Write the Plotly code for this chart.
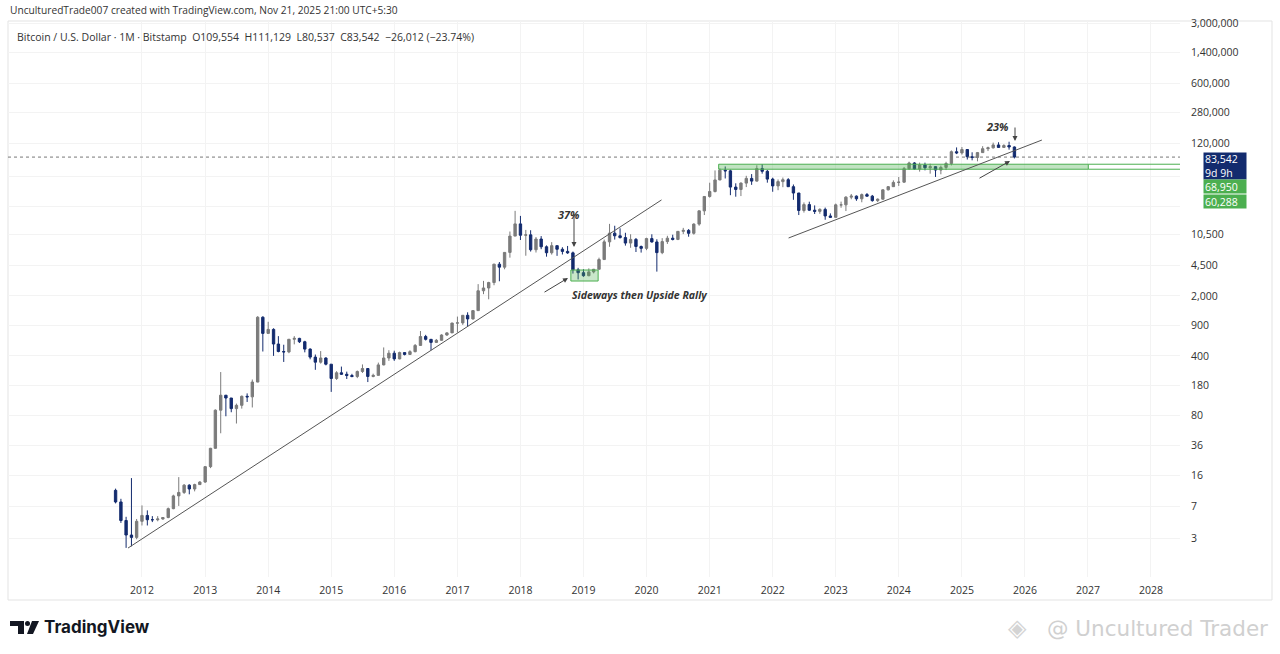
import pandas as pd
import plotly.graph_objects as go

# ---------------- data (monthly BTCUSD, Bitstamp) ----------------
months = pd.date_range("2011-08-01", "2025-11-01", freq="MS")

open_ = [
    10.8, 7.9, 4.8, 3.25, 3.05,
    4.7, 5.5, 4.9, 4.9, 5.0, 5.2, 6.6, 9.3, 10.2, 12.4, 11.2, 12.6,
    13.5, 20.4, 33.4, 93, 139, 129, 97, 106, 135, 133, 198, 1130,
    732, 815, 550, 450, 445, 625, 640, 585, 480, 387, 338, 378,
    320, 218, 254, 244, 236, 230, 263, 285, 230, 237, 314, 378,
    430, 369, 437, 416, 448, 530, 673, 624, 575, 608, 701, 742,
    966, 970, 1190, 1080, 1350, 2300, 2480, 2870, 4700, 4340, 6450, 10000,
    13880, 10230, 10330, 6930, 9240, 7500, 6390, 7730, 7020, 6630, 6370, 4040,
    3740, 3450, 3820, 4100, 5320, 8560, 10820, 10080, 9600, 8290, 9150, 7560,
    7190, 9350, 8540, 6410, 8630, 9450, 9140, 11350, 11650, 10780, 13800, 19700,
    28990, 33100, 45200, 58800, 57700, 37300, 35000, 41500, 47100, 43800, 61300, 57000,
    46200, 38500, 43200, 45500, 37700, 31800, 19900, 23300, 20050, 19430, 20490, 17170,
    16540, 23130, 23140, 28480, 29250, 27220, 30470, 29230, 25930, 26970, 34650, 37720,
    42280, 42580, 61130, 71290, 60640, 67500, 62680, 64620, 58970, 63330, 70220, 96450,
    93390, 102400, 84350, 82550, 94200, 104600, 107100, 115750, 108250, 114050, 109554,
]
high = [
    11.3, 8.6, 5.3, 15.0, 5.0,
    7.2, 6.3, 5.4, 5.4, 5.2, 6.8, 9.6, 15.4, 12.8, 12.7, 12.9, 13.8,
    20.7, 33.8, 95, 259, 140, 129, 111, 138, 146, 212, 1163, 1160,
    1000, 840, 680, 540, 630, 680, 650, 600, 490, 415, 455, 385,
    320, 265, 300, 262, 247, 270, 318, 285, 248, 334, 502, 466,
    460, 448, 440, 465, 550, 780, 704, 630, 630, 715, 756, 975,
    1150, 1200, 1290, 1350, 2750, 3000, 2930, 4750, 4980, 6470, 11300, 19700,
    17200, 11800, 11700, 9750, 10000, 7780, 8500, 7750, 7410, 7670, 6600, 4260,
    4100, 4200, 4140, 5600, 9100, 13880, 13200, 12330, 10930, 10500, 9500, 7750,
    9570, 10500, 9180, 9460, 10080, 10380, 11440, 12470, 12070, 14100, 19900, 29300,
    41950, 58350, 61800, 64900, 59600, 41300, 42400, 50500, 52900, 67000, 69000, 59100,
    48000, 45800, 48200, 47400, 40000, 31900, 24700, 25200, 22800, 21100, 21500, 18400,
    23950, 25250, 29200, 31000, 29800, 31400, 31800, 30200, 27500, 35100, 38400, 44700,
    48900, 64000, 73800, 72800, 72000, 71900, 70000, 65000, 66500, 73600, 99800, 108300,
    109400, 102800, 95000, 95800, 111900, 110500, 123200, 124500, 117900, 126200, 111129,
]
low = [
    7.6, 4.5, 2.3, 2.4, 2.9,
    4.2, 4.2, 4.6, 4.7, 4.9, 5.1, 6.5, 7.1, 9.8, 9.7, 10.5, 12.5,
    13.2, 19.6, 33, 50, 79, 88, 65, 97, 116, 100, 197, 450,
    730, 400, 440, 340, 430, 545, 565, 440, 365, 275, 325, 310,
    152, 210, 240, 215, 225, 220, 253, 198, 225, 236, 310, 350,
    350, 365, 405, 412, 440, 525, 605, 465, 565, 605, 685, 740,
    750, 920, 885, 1060, 1340, 2100, 1830, 2670, 2970, 4100, 5600, 10000,
    9000, 5900, 6600, 6430, 7030, 5750, 6080, 5880, 6100, 6200, 3650, 3120,
    3350, 3400, 3670, 4100, 5320, 7500, 9100, 9380, 7740, 7300, 6520, 6420,
    6850, 8400, 3850, 6150, 8100, 8900, 8970, 10550, 9830, 10400, 13200, 17600,
    28100, 32300, 44900, 47000, 30000, 28800, 29300, 37300, 39600, 43300, 53500, 42000,
    32900, 34300, 37200, 37600, 26500, 17600, 18800, 19600, 18100, 18200, 15500, 16300,
    16500, 21400, 19600, 26900, 25800, 24800, 28900, 25200, 24900, 26600, 34100, 37600,
    38500, 41900, 59300, 59600, 56500, 58500, 53500, 49000, 52600, 58900, 66800, 90500,
    89200, 78200, 76600, 74500, 93400, 98200, 105100, 107300, 107300, 102000, 80537,
]
close = [
    7.9, 4.8, 3.25, 3.05, 4.7,
    5.5, 4.9, 4.9, 5.0, 5.2, 6.6, 9.3, 10.2, 12.4, 11.2, 12.6, 13.5,
    20.4, 33.4, 93, 139, 129, 97, 106, 135, 133, 198, 1130, 732,
    815, 550, 450, 445, 625, 640, 585, 480, 387, 338, 378, 320,
    218, 254, 244, 236, 230, 263, 285, 230, 237, 314, 378, 430,
    369, 437, 416, 448, 530, 673, 624, 575, 608, 701, 742, 966,
    970, 1190, 1080, 1350, 2300, 2480, 2870, 4700, 4340, 6450, 10000, 13880,
    10230, 10330, 6930, 9240, 7500, 6390, 7730, 7020, 6630, 6370, 4040, 3740,
    3450, 3820, 4100, 5320, 8560, 10820, 10080, 9600, 8290, 9150, 7560, 7190,
    9350, 8540, 6410, 8630, 9450, 9140, 11350, 11650, 10780, 13800, 19700, 28990,
    33100, 45200, 58800, 57700, 37300, 35000, 41500, 47100, 43800, 61300, 57000, 46200,
    38500, 43200, 45500, 37700, 31800, 19900, 23300, 20050, 19430, 20490, 17170, 16540,
    23130, 23140, 28480, 29250, 27220, 30470, 29230, 25930, 26970, 34650, 37720, 42280,
    42580, 61130, 71290, 60640, 67500, 62680, 64620, 58970, 63330, 70220, 96450, 93390,
    102400, 84350, 82550, 94200, 104600, 107100, 115750, 108250, 114050, 109554, 83542,
]

y_tick_vals = [3, 7, 16, 36, 80, 180, 400, 900, 2000, 4500, 10500, 22000,
               50000, 120000, 280000, 600000, 1400000, 3000000]
# 50,000 and 22,000 sit under the price-label boxes (hidden in the reference)
y_tick_text = [("" if v in (22000, 50000) else f"{v:,}") for v in y_tick_vals]
year_labels = [str(y) for y in range(2012, 2029)]
year_ticks = [f"{y}-01-01" for y in year_labels]

# drawings (date, price)
trend1 = (["2011-10-12", "2020-03-28"], [2.29, 26400])
trend2 = (["2022-04-03", "2026-04-09"], [9500, 132000])
zone = ("2021-02-22", "2027-01-03", 60288, 68950)
box_small = ("2018-10-20", "2019-03-27", 2990, 4020)

# ---------------- layout helpers ----------------
W, H = 1280, 654
L, R, T, B = 8, 1180, 21, 577
def px(x): return (x - L) / (R - L)
def py(y): return (B - y) / (B - T)

UP = "#7b7b7b"
DN = "#132b6e"
GREEN = "#4caf50"
FONT = "Open Sans"
TXT = "#333333"

fig = go.Figure()
fig.add_trace(go.Candlestick(
    x=months, open=open_, high=high, low=low, close=close,
    increasing=dict(line=dict(color=UP, width=1), fillcolor=UP),
    decreasing=dict(line=dict(color=DN, width=1), fillcolor=DN),
    whiskerwidth=0, hoverinfo="skip", showlegend=False,
))

shapes = []
# frame
shapes.append(dict(type="rect", xref="paper", yref="paper", x0=px(8), x1=px(1272),
                   y0=py(600), y1=py(21), line=dict(color="#e3e3e3", width=1), layer="below"))
# price line
shapes.append(dict(type="line", xref="paper", yref="y", x0=0, x1=1, y0=close[-1], y1=close[-1],
                   line=dict(color="#777777", width=1, dash="dot")))
# green zone
shapes.append(dict(type="rect", xref="x", yref="y", x0=zone[0], x1=zone[1], y0=zone[2], y1=zone[3],
                   fillcolor="rgba(76,175,80,0.35)", line=dict(color=GREEN, width=1)))
for v in zone[2:]:
    shapes.append(dict(type="line", xref="x", yref="y", x0=zone[1], x1="2028-06-17", y0=v, y1=v,
                       line=dict(color=GREEN, width=1)))
# small box
shapes.append(dict(type="rect", xref="x", yref="y", x0=box_small[0], x1=box_small[1],
                   y0=box_small[2], y1=box_small[3],
                   fillcolor="rgba(76,175,80,0.30)", line=dict(color=GREEN, width=1)))
# trend lines
for tl in (trend1, trend2):
    shapes.append(dict(type="line", xref="x", yref="y", x0=tl[0][0], x1=tl[0][1],
                       y0=tl[1][0], y1=tl[1][1], line=dict(color="#555555", width=1)))
# TradingView logo glyph
shapes.append(dict(type="path", xref="paper", yref="paper", fillcolor="#131722", line=dict(width=0),
                   path=f"M {px(10)},{py(621)} L {px(24)},{py(621)} L {px(24)},{py(634)} L {px(18)},{py(634)} "
                        f"L {px(18)},{py(626)} L {px(10)},{py(626)} Z"))
shapes.append(dict(type="circle", xref="paper", yref="paper", fillcolor="#131722", line=dict(width=0),
                   x0=px(25), x1=px(30), y0=py(626), y1=py(621)))
shapes.append(dict(type="path", xref="paper", yref="paper", fillcolor="#131722", line=dict(width=0),
                   path=f"M {px(32)},{py(621)} L {px(39)},{py(621)} L {px(33)},{py(634)} L {px(27)},{py(634)} Z"))

ann = []
# header
ann.append(dict(xref="paper", yref="paper", x=px(8), y=py(10), xanchor="left", yanchor="middle",
                text="UnculturedTrade007 created with TradingView.com, Nov 21, 2025 21:00 UTC+5:30",
                showarrow=False, font=dict(family=FONT, size=10.2, color=TXT)))
ann.append(dict(xref="paper", yref="paper", x=px(15), y=py(37), xanchor="left", yanchor="middle",
                text="Bitcoin / U.S. Dollar · 1M · Bitstamp  O109,554  H111,129  L80,537  C83,542  −26,012 (−23.74%)",
                showarrow=False, font=dict(family=FONT, size=10.5, color=TXT)))
# right price labels
ann.append(dict(xref="paper", yref="paper", x=px(1203), y=py(166), xanchor="left", yanchor="middle",
                text="83,542<br>9d 9h", showarrow=False, bgcolor=DN, width=40, height=24, align="left",
                borderpad=1, font=dict(family=FONT, size=10.5, color="white")))
ann.append(dict(xref="paper", yref="paper", x=px(1203), y=py(186.5), xanchor="left", yanchor="middle",
                text="68,950", showarrow=False, bgcolor=GREEN, width=40, height=11, align="left",
                borderpad=1, font=dict(family=FONT, size=10.5, color="white")))
ann.append(dict(xref="paper", yref="paper", x=px(1203), y=py(201.5), xanchor="left", yanchor="middle",
                text="60,288", showarrow=False, bgcolor=GREEN, width=40, height=11, align="left",
                borderpad=1, font=dict(family=FONT, size=10.5, color="white")))
# chart texts
ann.append(dict(xref="paper", yref="paper", x=px(569), y=py(205), text="<b><i>37%</i></b>",
                showarrow=False, font=dict(family=FONT, size=11, color=TXT)))
ann.append(dict(xref="paper", yref="paper", x=px(639), y=py(295),
                text="<b><i>Sideways then Upside Rally</i></b>",
                showarrow=False, font=dict(family=FONT, size=10.5, color=TXT)))
ann.append(dict(xref="paper", yref="paper", x=px(1011), y=py(117), text="<b><i>23%</i></b>",
                showarrow=False, font=dict(family=FONT, size=11, color=TXT)))
# arrows
for hx, hy, tx, ty in [(574, 247, 574, 213), (568, 278, 543, 293),
                       (1015, 141, 1015, 126), (1010, 161, 978, 179)]:
    ann.append(dict(xref="paper", yref="paper", x=px(hx), y=py(hy), ax=tx - hx, ay=ty - hy,
                    text="", showarrow=True, arrowhead=2, arrowsize=1, arrowwidth=1,
                    arrowcolor="#444444"))
# TradingView wordmark
ann.append(dict(xref="paper", yref="paper", x=px(42), y=py(627), xanchor="left", yanchor="middle",
                text="<b>TradingView</b>", showarrow=False,
                font=dict(family="Inter", size=17, color="#131722")))
# watermark
ann.append(dict(xref="paper", yref="paper", x=px(1017), y=py(628), xanchor="center", yanchor="middle",
                text="◈", showarrow=False, font=dict(family="DejaVu Sans", size=24, color="#d4d4d4")))
ann.append(dict(xref="paper", yref="paper", x=px(1270), y=py(628), xanchor="right", yanchor="middle",
                text="@ Uncultured Trader", showarrow=False,
                font=dict(family="DejaVu Sans", size=21.5, color="#d0d0d0")))

fig.update_layout(
    width=W, height=H,
    margin=dict(l=L, r=W - R, t=T, b=H - B),
    paper_bgcolor="white", plot_bgcolor="white",
    showlegend=False, shapes=shapes, annotations=ann,
    xaxis=dict(type="date", range=["2009-11-16", "2028-06-17"], rangeslider=dict(visible=False),
               tickvals=year_ticks, ticktext=year_labels, showgrid=True, gridcolor="#f3f3f3",
               zeroline=False, showline=False, ticks="outside", ticklen=3, tickcolor="rgba(0,0,0,0)",
               tickfont=dict(family=FONT, size=10.5, color=TXT), fixedrange=True),
    yaxis=dict(type="log", side="right", range=[0.022, 6.5097],
               tickvals=y_tick_vals, ticktext=y_tick_text, showgrid=True, gridcolor="#f3f3f3",
               zeroline=False, showline=False, ticks="outside", ticklen=8, tickcolor="rgba(0,0,0,0)",
               tickfont=dict(family=FONT, size=10.5, color=TXT), fixedrange=True),
)

fig.write_html("out.html", config={"displayModeBar": False},
               post_script="document.body.style.margin='0';document.body.style.overflow='hidden';")
